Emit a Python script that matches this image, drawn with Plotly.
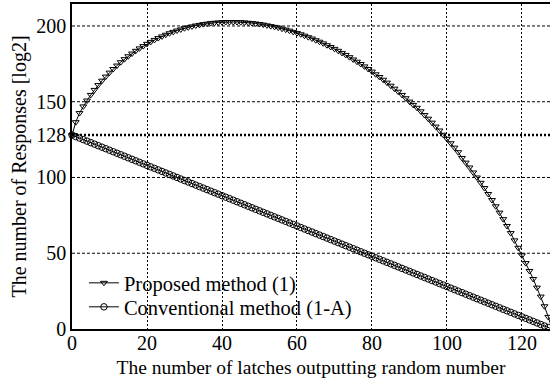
import plotly.graph_objects as go

# ---- data ----
latches = list(range(0, 129))

proposed = [
    128.0, 136.5, 142.5, 146.9, 150.8, 154.5, 157.8, 161.0, 163.9, 166.6,
    169.2, 171.6, 173.9, 176.1, 178.1, 180.0, 181.8, 183.6, 185.2, 186.7,
    188.2, 189.5, 190.8, 192.0, 193.1, 194.2, 195.2, 196.1, 197.0, 197.7,
    198.5, 199.1, 199.7, 200.3, 200.7, 201.2, 201.5, 201.9, 202.1, 202.3,
    202.5, 202.6, 202.6, 202.6, 202.6, 202.5, 202.3, 202.1, 201.9, 201.6,
    201.3, 200.9, 200.4, 199.9, 199.4, 198.9, 198.2, 197.6, 196.9, 196.1,
    195.3, 194.5, 193.6, 192.6, 191.7, 190.6, 189.6, 188.5, 187.3, 186.1,
    184.9, 183.6, 182.2, 180.9, 179.4, 177.9, 176.4, 174.9, 173.3, 171.6,
    169.9, 168.1, 166.3, 164.5, 162.6, 160.6, 158.6, 156.6, 154.5, 152.3,
    150.1, 147.9, 146.0, 143.7, 141.2, 138.8, 136.2, 133.6, 131.0, 128.2,
    125.5, 122.6, 119.7, 116.7, 112.9, 109.8, 106.6, 103.3, 100.0, 96.5,
    93.0, 89.1, 85.1, 81.0, 76.8, 72.5, 68.0, 63.3, 58.5, 53.6,
    48.6, 43.5, 38.3, 33.0, 27.3, 21.4, 15.0, 8.0, 0.0,
]

conventional = [
    128, 127, 126, 125, 124, 123, 122, 121, 120, 119,
    118, 117, 116, 115, 114, 113, 112, 111, 110, 109,
    108, 107, 106, 105, 104, 103, 102, 101, 100, 99,
    98, 97, 96, 95, 94, 93, 92, 91, 90, 89,
    88, 87, 86, 85, 84, 83, 82, 81, 80, 79,
    78, 77, 76, 75, 74, 73, 72, 71, 70, 69,
    68, 67, 66, 65, 64, 63, 62, 61, 60, 59,
    58, 57, 56, 55, 54, 53, 52, 51, 50, 49,
    48, 47, 46, 45, 44, 43, 42, 41, 40, 39,
    38, 37, 36, 35, 34, 33, 32, 31, 30, 29,
    28, 27, 26, 25, 24, 23, 22, 21, 20, 19,
    18, 17, 16, 15, 14, 13, 12, 11, 10, 9,
    8, 7, 6, 5, 4, 3, 2, 1, 0,
]

series_names = ["Proposed method (1)", "Conventional method (1-A)"]
x_ticks = [0, 20, 40, 60, 80, 100, 120]
y_ticks = [0, 50, 100, 128, 150, 200]
y_dash_grid = [50, 100, 150, 200]
y_ref = 128

x_title = "The number of latches outputting random number"
y_title = "The number of Responses [log2]"

FONT = "Liberation Serif"

fig = go.Figure()
fig.add_trace(go.Scatter(
    x=latches, y=proposed, name=series_names[0], mode="lines+markers",
    line=dict(color="black", width=1),
    marker=dict(symbol="triangle-down-open", size=6, color="black",
                line=dict(width=1, color="black")),
    cliponaxis=False, legend="legend",
))
fig.add_trace(go.Scatter(
    x=latches, y=conventional, name=series_names[1], mode="lines+markers",
    line=dict(color="black", width=1),
    marker=dict(symbol="circle-open", size=6.5, color="black",
                line=dict(width=1, color="black")),
    cliponaxis=False, legend="legend2",
))

shapes = []
for v in y_dash_grid:
    shapes.append(dict(type="line", xref="paper", x0=0, x1=1, yref="y", y0=v, y1=v,
                       line=dict(color="black", width=1, dash="3px,2px"), layer="below"))
shapes.append(dict(type="line", xref="paper", x0=0, x1=1, yref="y", y0=y_ref, y1=y_ref,
                   line=dict(color="black", width=2.5, dash="2px,2px"), layer="below"))

legend_style = dict(xanchor="left", yanchor="middle",
                    bgcolor="rgba(0,0,0,0)", borderwidth=0,
                    font=dict(family=FONT, size=20.5, color="black"),
                    itemwidth=30)

fig.update_layout(
    width=550, height=383,
    margin=dict(l=72, r=0, t=4, b=54),
    paper_bgcolor="white", plot_bgcolor="white",
    font=dict(family=FONT, size=20, color="black"),
    shapes=shapes,
    showlegend=True,
    legend=dict(x=0.025, y=0.1415, **legend_style),
    legend2=dict(x=0.025, y=0.0677, **legend_style),
)
fig.update_xaxes(
    range=[0, 127.47], tickvals=x_ticks, ticks="", showgrid=True,
    gridcolor="black", gridwidth=1, griddash="2px,2px",
    showline=True, linecolor="black", linewidth=1.5, mirror=True,
    zeroline=False, ticklabelstandoff=-5,
    title=dict(text=x_title, standoff=8, font=dict(family=FONT, size=19.5)),
    tickfont=dict(family=FONT, size=20),
)
fig.update_yaxes(
    range=[0, 214.5], tickvals=y_ticks, ticks="", showgrid=False,
    showline=True, linecolor="black", linewidth=1.5, mirror=False,
    zeroline=False, title=dict(text=y_title, standoff=4, font=dict(family=FONT, size=20)),
    tickfont=dict(family=FONT, size=20),
)

fig.write_html("out.html")
